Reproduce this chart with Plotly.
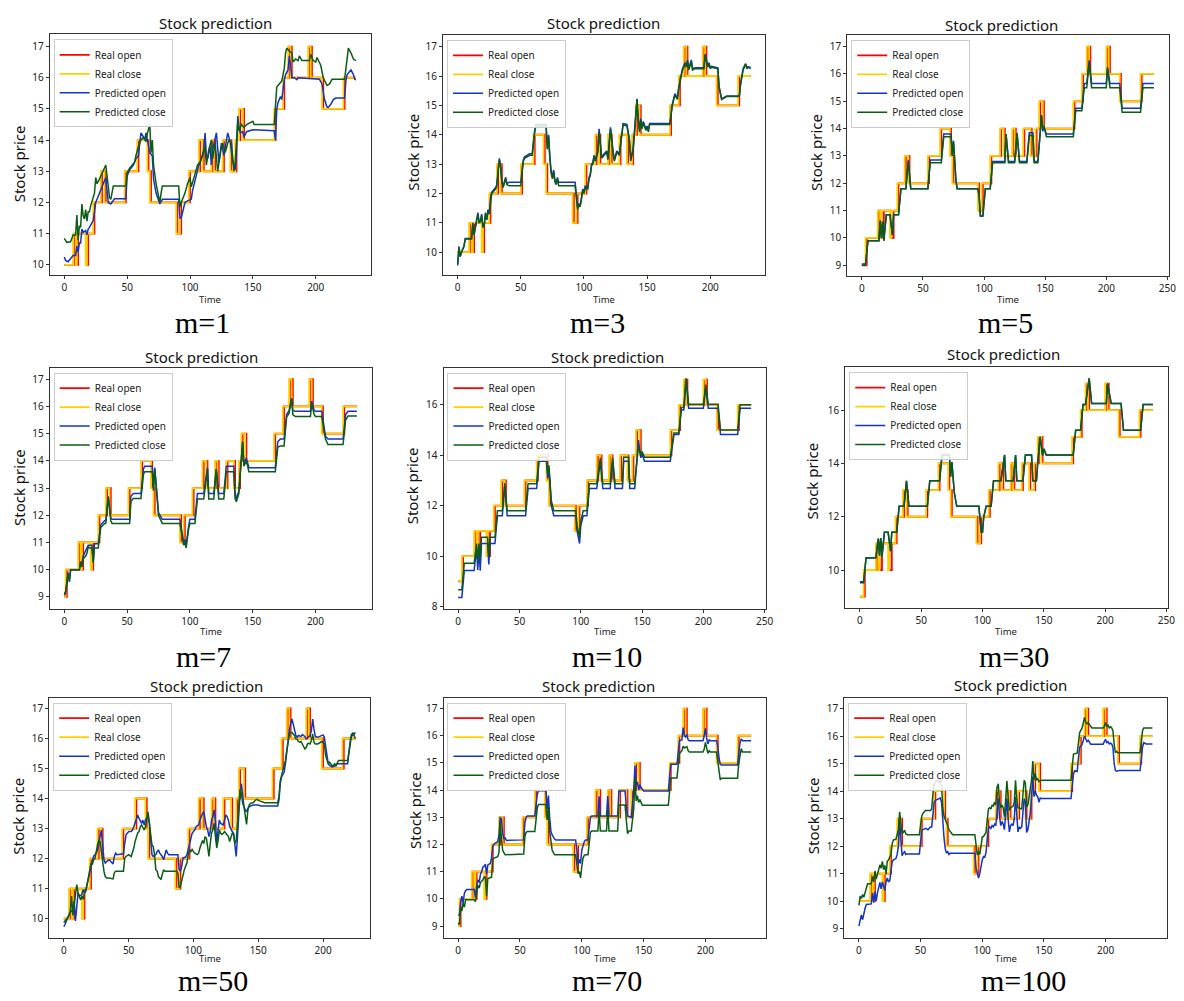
import plotly.graph_objects as go

# ------------------------------------------------------------------ data
PANEL_NAMES = ["m=1", "m=3", "m=5", "m=7", "m=10", "m=30", "m=50", "m=70", "m=100"]
SERIES_NAMES = ["Real open", "Real close", "Predicted open", "Predicted close"]

# price levels of the real series (step values, in order)
REAL_LEVELS = [9, 10, 11, 10, 11, 10, 11, 12, 13, 12, 13, 14, 13, 12, 11, 12, 13, 14, 13, 14,
               13, 14, 13, 14, 15, 14, 15, 16, 17, 16, 17, 16, 15, 16]

# time index at which each level starts (real close / real open), per window
close_start_base = [0, 3, 13, 15, 16, 23, 24, 29, 35, 38, 54, 64, 72, 74, 95, 98, 105, 113, 116, 123,
                    125, 132, 138, 142, 145, 148, 173, 180, 184, 186, 200, 202, 211, 228]
open_start_base = [0, 4, 14, 16, 18, 24, 26, 30, 36, 39, 55, 65, 73, 75, 96, 99, 106, 114, 117, 124,
                   126, 133, 139, 143, 146, 149, 174, 181, 185, 187, 201, 203, 212, 229]
close_start_m1 = [0, 7, 9, 10, 17, 18, 23, 29, 32, 48, 58, 66, 68, 89, 92, 99, 107, 110, 117, 119,
                  126, 132, 136, 139, 142, 167, 174, 178, 180, 194, 196, 205, 222]
open_start_m1 = [0, 8, 10, 11, 18, 19, 24, 30, 33, 49, 59, 67, 69, 90, 93, 100, 108, 111, 118, 120,
                 127, 133, 137, 140, 143, 168, 175, 179, 181, 195, 197, 206, 223]
close_start_m3 = [0, 9, 11, 12, 19, 20, 25, 31, 34, 50, 60, 68, 70, 91, 94, 101, 109, 112, 119, 121,
                  128, 134, 138, 141, 144, 168, 175, 179, 181, 194, 196, 205, 222]
open_start_m3 = [0, 10, 12, 13, 20, 21, 26, 32, 35, 51, 61, 69, 71, 92, 95, 102, 110, 113, 120, 122,
                 129, 135, 139, 142, 145, 169, 176, 180, 182, 195, 197, 206, 223]
close_start_m7 = [0, 1, 11, 13, 14, 21, 22, 27, 33, 36, 51, 61, 69, 71, 92, 95, 102, 110, 113, 120,
                  122, 129, 135, 139, 141, 144, 167, 174, 179, 181, 195, 197, 205, 222]
open_start_m7 = [0, 2, 12, 14, 15, 22, 23, 28, 34, 37, 52, 62, 70, 72, 93, 96, 103, 111, 114, 121,
                 123, 130, 136, 140, 142, 145, 168, 175, 180, 182, 196, 198, 206, 223]
close_start_m50 = [0, 4, 6, 7, 14, 15, 20, 26, 29, 45, 55, 63, 65, 86, 89, 96, 104, 107, 114, 116,
                   123, 129, 133, 135, 139, 161, 168, 172, 174, 187, 189, 199, 215]
open_start_m50 = [0, 5, 7, 8, 15, 16, 21, 27, 30, 46, 56, 64, 66, 87, 90, 97, 105, 108, 115, 117,
                  124, 130, 134, 136, 140, 162, 169, 173, 175, 188, 190, 200, 216]
close_start_m70 = [0, 1, 11, 13, 14, 21, 22, 27, 33, 36, 52, 62, 70, 72, 93, 96, 104, 111, 114, 121,
                   123, 130, 136, 140, 143, 146, 171, 178, 182, 184, 198, 200, 209, 226]
open_start_m70 = [0, 2, 12, 14, 15, 22, 23, 28, 34, 37, 53, 63, 71, 73, 94, 97, 105, 112, 115, 122,
                  124, 131, 137, 141, 144, 147, 172, 179, 183, 185, 199, 201, 210, 227]
close_start_m100 = [0, 9, 11, 12, 19, 20, 25, 31, 34, 50, 61, 69, 71, 93, 96, 104, 111, 114, 120, 122,
                    129, 135, 139, 142, 146, 172, 179, 183, 185, 198, 200, 210, 228]
open_start_m100 = [0, 10, 12, 13, 20, 21, 26, 32, 35, 51, 62, 70, 72, 94, 97, 105, 112, 115, 121, 123,
                   130, 136, 140, 143, 147, 173, 180, 184, 186, 199, 201, 211, 229]

# first level shown in each window, last time index of each window
FIRST_LEVEL = [1, 1, 0, 0, 0, 0, 1, 0, 1]
LAST_T = [232, 232, 239, 233, 239, 239, 225, 237, 238]

# predicted series: (time, price)
pred_open_m1 = [(0, 10.25), (1, 10.14), (3, 10.1), (5, 10.2), (7, 10.3), (9, 10.3), (10, 10.6), (11, 10.4), (12, 10.7),
    (13, 10.7), (14, 11.15), (15, 11.04), (17, 11.1), (18, 10.96), (19, 11.15), (20, 11.2), (22, 11.35), (23, 11.42),
    (24, 11.7), (25, 12.0), (27, 12.2), (28, 12.3), (30, 12.5), (33, 12.8), (34, 12.37), (35, 12.0), (37, 11.95),
    (39, 12.05), (40, 12.12), (49, 12.12), (50, 12.85), (52, 13.05), (55, 13.2), (57, 13.4), (59, 13.5), (60, 13.9),
    (61, 14.23), (63, 14.1), (64, 14.0), (65, 14.23), (66, 14.0), (67, 13.8), (68, 13.6), (70, 13.5), (71, 12.75),
    (73, 12.3), (75, 12.05), (76, 11.95), (77, 12.03), (78, 12.1), (91, 12.1), (92, 11.5), (93, 11.5), (95, 11.9),
    (96, 12.0), (98, 12.05), (101, 12.1), (102, 12.37), (104, 12.7), (105, 12.95), (107, 13.2), (108, 13.25),
    (110, 13.5), (111, 13.7), (112, 14.23), (113, 13.5), (114, 13.4), (116, 13.8), (117, 13.2), (118, 13.7),
    (121, 14.23), (122, 13.7), (123, 13.27), (125, 13.9), (127, 13.5), (130, 14.23), (131, 14.07), (132, 13.95),
    (134, 13.3), (136, 13.05), (137, 13.6), (138, 14.77), (139, 14.4), (140, 14.23), (142, 14.27), (143, 14.1),
    (145, 14.27), (147, 14.3), (150, 14.33), (167, 14.3), (168, 14.0), (169, 14.98), (170, 15.2), (172, 15.4),
    (173, 15.3), (175, 15.93), (176, 16.1), (178, 16.25), (179, 16.7), (180, 16.4), (181, 16.0), (183, 16.0),
    (185, 15.94), (186, 16.0), (203, 15.95), (205, 15.8), (207, 15.3), (209, 15.06), (210, 15.05), (212, 15.15),
    (214, 15.3), (216, 15.35), (223, 15.35), (224, 15.9), (225, 16.1), (227, 16.2), (228, 16.25), (230, 16.1),
    (231, 15.95), (232, 15.93)]
pred_close_m1 = [(0, 10.85), (2, 10.72), (5, 10.74), (7, 10.96), (9, 10.96), (10, 11.6), (11, 10.8), (12, 11.25),
    (13, 11.2), (14, 11.95), (15, 11.57), (16, 11.47), (17, 11.77), (18, 11.4), (19, 11.7), (20, 11.7), (21, 11.9),
    (23, 12.2), (24, 12.3), (25, 12.8), (26, 12.6), (28, 12.75), (30, 12.95), (33, 13.2), (34, 12.85), (35, 12.4),
    (36, 12.15), (37, 12.1), (39, 12.53), (49, 12.53), (50, 12.95), (52, 13.1), (54, 13.2), (56, 13.3), (57, 13.5),
    (59, 13.8), (61, 14.0), (63, 14.1), (65, 13.95), (66, 14.2), (68, 14.5), (69, 13.6), (70, 14.0), (71, 13.2),
    (73, 12.6), (75, 12.1), (76, 12.0), (77, 12.3), (78, 12.53), (91, 12.53), (92, 11.85), (93, 12.0), (96, 12.3),
    (98, 12.6), (100, 12.8), (101, 12.5), (104, 12.9), (106, 13.2), (108, 13.3), (110, 13.5), (112, 13.8),
    (113, 13.2), (115, 13.7), (117, 14.0), (118, 13.4), (120, 13.9), (122, 13.0), (125, 13.8), (126, 13.9),
    (128, 13.6), (130, 13.9), (131, 14.0), (133, 13.9), (135, 13.0), (136, 13.3), (138, 14.6), (139, 14.3),
    (141, 14.5), (143, 14.4), (145, 14.5), (150, 14.6), (151, 14.5), (167, 14.5), (168, 15.0), (169, 15.7),
    (171, 15.8), (173, 15.9), (175, 16.3), (176, 16.8), (177, 16.95), (179, 16.85), (181, 16.8), (182, 16.5),
    (184, 16.6), (186, 16.55), (187, 16.7), (189, 16.55), (195, 16.55), (196, 16.75), (198, 16.55), (200, 16.5),
    (201, 16.65), (203, 16.45), (204, 16.4), (206, 16.0), (209, 15.75), (211, 15.8), (213, 15.95), (223, 15.95),
    (224, 16.3), (225, 16.8), (226, 16.95), (228, 16.8), (230, 16.6), (232, 16.55)]

pred_open_m3 = [(0, 9.55), (1, 10.2), (2, 9.85), (3, 10.0), (5, 10.2), (6, 10.47), (11, 10.47), (12, 11.0), (13, 10.6),
    (14, 10.85), (15, 11.1), (16, 11.35), (17, 11.0), (18, 11.05), (19, 11.3), (20, 10.85), (21, 10.9), (22, 11.35),
    (23, 11.1), (24, 11.45), (25, 11.3), (26, 11.85), (27, 12.05), (28, 12.1), (30, 12.2), (31, 12.3), (32, 12.75),
    (33, 13.2), (34, 12.9), (35, 12.4), (36, 12.25), (37, 12.45), (38, 12.55), (39, 12.35), (41, 12.38), (50, 12.38),
    (51, 12.75), (52, 13.15), (53, 13.25), (55, 13.3), (57, 13.35), (59, 13.35), (60, 13.85), (61, 14.15),
    (62, 14.35), (70, 14.35), (71, 13.55), (72, 14.0), (73, 13.25), (74, 12.75), (75, 12.55), (76, 12.8),
    (77, 12.45), (78, 12.35), (79, 12.55), (80, 12.38), (93, 12.38), (94, 11.85), (95, 11.5), (96, 11.65),
    (97, 11.6), (98, 11.85), (99, 12.15), (100, 12.05), (101, 12.25), (103, 12.2), (104, 12.55), (105, 12.65),
    (106, 13.0), (107, 13.05), (108, 13.3), (109, 13.15), (110, 13.35), (111, 13.45), (112, 14.2), (113, 13.65),
    (114, 13.25), (116, 13.35), (118, 13.45), (119, 13.2), (121, 14.25), (123, 13.45), (124, 13.15), (126, 13.45),
    (128, 13.35), (131, 14.38), (134, 14.35), (136, 13.85), (137, 13.15), (139, 13.55), (140, 14.05), (142, 15.22),
    (143, 14.55), (144, 14.15), (145, 14.55), (146, 14.25), (147, 14.45), (149, 14.2), (150, 14.3), (151, 14.15),
    (152, 14.38), (168, 14.38), (170, 15.05), (172, 15.4), (174, 15.25), (175, 15.6), (177, 16.05), (178, 16.25),
    (180, 16.45), (181, 16.35), (182, 16.55), (183, 16.25), (184, 16.4), (185, 16.55), (186, 16.25), (188, 16.28),
    (195, 16.28), (196, 16.75), (198, 16.35), (199, 16.45), (200, 16.28), (201, 16.33), (206, 16.28), (207, 15.65),
    (209, 15.22), (211, 15.27), (213, 15.32), (223, 15.32), (224, 15.75), (226, 16.25), (228, 16.42), (229, 16.28),
    (230, 16.32), (232, 16.28)]
pred_close_m3 = [(0, 9.6), (1, 10.15), (2, 9.85), (3, 10.0), (5, 10.2), (6, 10.45), (11, 10.45), (12, 10.95), (13, 10.6),
    (14, 10.8), (15, 11.1), (16, 11.3), (17, 11.0), (18, 11.05), (19, 11.25), (20, 10.85), (21, 10.9), (22, 11.3),
    (23, 11.1), (24, 11.4), (25, 11.3), (26, 11.8), (27, 12.0), (28, 12.05), (30, 12.15), (31, 12.25), (32, 12.7),
    (33, 13.15), (34, 12.9), (35, 12.4), (36, 12.2), (37, 12.4), (38, 12.5), (39, 12.3), (41, 12.26), (50, 12.26),
    (51, 12.7), (52, 13.1), (53, 13.2), (55, 13.25), (57, 13.3), (59, 13.3), (60, 13.8), (61, 14.1), (62, 14.3),
    (70, 14.3), (71, 13.5), (72, 13.95), (73, 13.2), (74, 12.7), (75, 12.5), (76, 12.75), (77, 12.4), (78, 12.3),
    (79, 12.5), (80, 12.26), (93, 12.26), (94, 11.8), (95, 11.45), (96, 11.6), (97, 11.55), (98, 11.8), (99, 12.1),
    (100, 12.0), (101, 12.2), (103, 12.15), (104, 12.5), (105, 12.6), (106, 12.95), (107, 13.0), (108, 13.25),
    (109, 13.1), (110, 13.3), (111, 13.4), (112, 14.1), (113, 13.6), (114, 13.2), (116, 13.3), (118, 13.4),
    (119, 13.15), (121, 14.2), (123, 13.4), (124, 13.1), (126, 13.4), (128, 13.3), (131, 14.35), (134, 14.3),
    (136, 13.8), (137, 13.1), (139, 13.5), (140, 14.0), (142, 15.2), (143, 14.5), (144, 14.1), (145, 14.5),
    (146, 14.2), (147, 14.4), (149, 14.15), (150, 14.25), (151, 14.1), (152, 14.35), (168, 14.35), (170, 15.0),
    (172, 15.35), (174, 15.2), (175, 15.55), (177, 16.0), (178, 16.2), (180, 16.4), (181, 16.3), (182, 16.5),
    (183, 16.2), (184, 16.35), (185, 16.5), (186, 16.2), (188, 16.25), (195, 16.25), (196, 16.7), (198, 16.3),
    (199, 16.4), (200, 16.25), (201, 16.3), (206, 16.25), (207, 15.6), (209, 15.2), (211, 15.25), (213, 15.3),
    (223, 15.3), (224, 15.7), (226, 16.2), (228, 16.4), (229, 16.25), (230, 16.3), (232, 16.25)]

pred_open_m5 = [(0, 9.0), (3, 9.0), (5, 9.9), (14, 9.9), (15, 10.6), (16, 10.0), (17, 10.6), (18, 9.9), (20, 10.85),
    (23, 10.85), (25, 10.1), (26, 10.85), (30, 10.85), (32, 11.8), (36, 11.8), (38, 12.85), (40, 11.8), (54, 11.8),
    (56, 12.85), (65, 12.85), (67, 13.8), (73, 13.8), (74, 13.1), (75, 13.55), (77, 12.1), (78, 11.8), (95, 11.8),
    (96, 11.5), (97, 10.8), (99, 10.8), (101, 11.8), (105, 11.8), (107, 12.8), (117, 12.8), (118, 13.8), (120, 12.8),
    (125, 12.8), (127, 13.85), (129, 12.8), (135, 12.8), (137, 13.85), (140, 13.85), (141, 12.8), (144, 12.8),
    (147, 14.5), (148, 13.9), (149, 14.05), (151, 13.8), (173, 13.8), (175, 14.75), (180, 14.75), (182, 15.65),
    (184, 15.65), (186, 16.5), (188, 15.65), (200, 15.65), (201, 16.25), (203, 15.65), (211, 15.65), (213, 14.75),
    (228, 14.75), (230, 15.65), (239, 15.65)]
pred_close_m5 = [(0, 9.05), (3, 9.05), (5, 9.9), (14, 9.9), (15, 10.65), (16, 10.0), (17, 10.6), (18, 9.9), (20, 10.85),
    (23, 10.85), (25, 10.1), (26, 10.85), (30, 10.85), (32, 11.8), (36, 11.8), (38, 12.8), (40, 11.8), (54, 11.8),
    (56, 12.75), (65, 12.75), (67, 13.7), (73, 13.7), (74, 13.0), (75, 13.5), (77, 12.1), (78, 11.8), (95, 11.8),
    (96, 11.5), (97, 10.8), (99, 10.8), (101, 11.8), (105, 11.8), (107, 12.75), (117, 12.75), (118, 13.8),
    (120, 12.75), (125, 12.75), (127, 13.8), (129, 12.75), (135, 12.75), (137, 13.75), (140, 13.75), (141, 12.75),
    (144, 12.75), (147, 14.45), (148, 14.0), (149, 14.1), (151, 13.7), (173, 13.7), (175, 14.65), (180, 14.65),
    (182, 15.5), (184, 15.5), (186, 16.4), (188, 15.5), (200, 15.5), (201, 16.2), (203, 15.5), (211, 15.5),
    (213, 14.6), (228, 14.6), (230, 15.5), (239, 15.5)]

pred_open_m7 = [(0, 9.05), (1, 9.15), (3, 9.9), (4, 9.55), (5, 10.0), (12, 10.0), (13, 10.3), (14, 10.2), (15, 10.5),
    (17, 10.7), (18, 10.8), (19, 10.9), (20, 10.9), (22, 10.9), (23, 10.3), (24, 10.95), (27, 10.95), (29, 11.65),
    (30, 11.7), (32, 11.8), (33, 11.8), (35, 12.7), (37, 11.9), (38, 11.85), (52, 11.85), (53, 12.7), (55, 12.8),
    (61, 12.8), (63, 13.7), (64, 13.8), (70, 13.8), (71, 13.0), (72, 13.75), (74, 12.7), (75, 12.1), (78, 11.85),
    (92, 11.85), (94, 11.3), (95, 11.0), (96, 11.1), (97, 10.9), (99, 11.6), (100, 11.85), (104, 11.85), (106, 12.8),
    (111, 12.8), (114, 13.75), (115, 12.8), (119, 12.8), (121, 13.7), (123, 12.8), (127, 12.8), (129, 13.8),
    (135, 13.8), (136, 12.8), (137, 12.6), (139, 12.9), (142, 14.7), (143, 13.9), (145, 14.1), (147, 13.75),
    (168, 13.75), (170, 14.7), (172, 14.8), (175, 14.8), (177, 15.7), (179, 15.85), (181, 16.3), (182, 15.85),
    (184, 15.82), (196, 15.82), (197, 16.2), (199, 15.85), (200, 15.82), (205, 15.82), (208, 14.9), (210, 14.8),
    (222, 14.8), (224, 15.7), (226, 15.82), (233, 15.82)]
pred_close_m7 = [(0, 9.1), (1, 9.2), (3, 9.83), (4, 9.6), (5, 10.0), (12, 10.0), (13, 10.25), (14, 10.1), (15, 10.4),
    (17, 10.5), (18, 10.6), (19, 10.85), (20, 10.8), (22, 10.8), (23, 10.25), (24, 10.8), (27, 10.8), (29, 11.55),
    (30, 11.6), (32, 11.7), (33, 11.7), (35, 12.65), (37, 11.8), (38, 11.7), (52, 11.7), (53, 12.5), (55, 12.62),
    (61, 12.62), (63, 13.5), (64, 13.6), (70, 13.6), (71, 12.9), (72, 13.7), (74, 12.6), (75, 12.0), (78, 11.7),
    (92, 11.7), (94, 11.2), (95, 10.9), (96, 11.0), (97, 10.8), (99, 11.5), (100, 11.7), (104, 11.7), (106, 12.6),
    (111, 12.6), (114, 13.7), (115, 12.6), (119, 12.6), (121, 13.7), (123, 12.6), (127, 12.6), (129, 13.6),
    (135, 13.6), (136, 12.6), (137, 12.5), (139, 12.8), (142, 14.7), (143, 13.8), (145, 14.0), (147, 13.6),
    (168, 13.6), (170, 14.5), (172, 14.55), (175, 14.55), (177, 15.6), (179, 15.75), (181, 16.3), (182, 15.7),
    (184, 15.63), (196, 15.63), (197, 16.1), (199, 15.7), (200, 15.63), (205, 15.63), (208, 14.8), (210, 14.6),
    (222, 14.6), (224, 15.5), (226, 15.65), (233, 15.65)]

pred_open_m10 = [(0, 8.36), (3, 8.36), (5, 9.43), (13, 9.43), (15, 10.3), (16, 9.45), (17, 10.3), (18, 9.42), (19, 10.5),
    (24, 10.5), (25, 9.67), (26, 10.5), (30, 10.5), (32, 11.6), (36, 11.6), (38, 12.8), (40, 11.6), (55, 11.6),
    (57, 12.68), (64, 12.68), (66, 13.76), (72, 13.76), (73, 13.1), (74, 13.5), (76, 12.0), (78, 11.6), (96, 11.6),
    (97, 11.0), (99, 10.5), (100, 11.2), (102, 11.6), (105, 11.6), (107, 12.68), (113, 12.68), (116, 13.76),
    (118, 12.68), (124, 12.68), (126, 13.76), (128, 12.68), (134, 12.68), (135, 13.76), (139, 13.76), (140, 12.68),
    (144, 12.68), (147, 14.6), (149, 13.9), (150, 14.05), (152, 13.76), (173, 13.76), (176, 14.82), (180, 14.82),
    (182, 15.8), (184, 15.8), (186, 17.0), (188, 15.87), (200, 15.87), (202, 16.7), (204, 15.87), (212, 15.87),
    (214, 14.82), (228, 14.82), (230, 15.87), (239, 15.87)]
pred_close_m10 = [(0, 8.67), (3, 8.67), (5, 9.72), (13, 9.72), (15, 10.5), (16, 9.8), (17, 10.5), (18, 9.9), (19, 10.75),
    (24, 10.75), (25, 10.02), (26, 10.75), (30, 10.75), (32, 11.8), (36, 11.8), (38, 12.9), (40, 11.8), (55, 11.8),
    (57, 12.87), (64, 12.87), (66, 13.92), (72, 13.92), (73, 13.3), (74, 13.6), (76, 12.2), (78, 11.8), (96, 11.8),
    (97, 11.2), (99, 10.75), (100, 11.4), (102, 11.8), (105, 11.8), (107, 12.87), (113, 12.87), (116, 13.9),
    (118, 12.87), (124, 12.87), (126, 13.9), (128, 12.87), (134, 12.87), (135, 13.92), (139, 13.92), (140, 12.87),
    (144, 12.87), (147, 14.35), (149, 14.0), (150, 14.15), (152, 13.92), (173, 13.92), (176, 14.88), (180, 14.88),
    (182, 15.9), (184, 15.9), (186, 17.05), (188, 16.02), (200, 16.02), (202, 16.8), (204, 16.02), (212, 16.02),
    (214, 15.0), (228, 15.0), (230, 16.0), (239, 16.0)]

pred_open_m30 = [(0, 9.52), (3, 9.52), (5, 10.44), (13, 10.46), (15, 11.18), (16, 10.55), (17, 11.2), (18, 10.5), (20, 11.42),
    (23, 11.42), (25, 10.71), (26, 11.42), (30, 11.42), (32, 12.39), (36, 12.39), (38, 13.35), (40, 12.39), (55, 12.39),
    (57, 13.35), (65, 13.35), (67, 14.32), (73, 14.32), (74, 13.5), (75, 14.05), (77, 12.9), (79, 12.39), (97, 12.39),
    (98, 11.9), (99, 11.42), (100, 11.42), (101, 12.0), (103, 12.39), (107, 12.39), (109, 13.35), (115, 13.35),
    (118, 14.32), (119, 13.35), (125, 13.35), (127, 14.32), (128, 13.35), (133, 13.35), (135, 14.32), (140, 14.32),
    (141, 13.35), (144, 13.35), (145, 14.0), (147, 15.0), (149, 14.3), (150, 14.55), (152, 14.32), (174, 14.32),
    (176, 15.25), (180, 15.25), (182, 16.21), (184, 16.21), (187, 17.2), (189, 16.25), (201, 16.25), (202, 17.0),
    (205, 16.25), (213, 16.25), (215, 15.25), (229, 15.25), (231, 16.21), (239, 16.21)]
pred_close_m30 = [(0, 9.56), (3, 9.56), (5, 10.46), (13, 10.46), (15, 11.18), (16, 10.55), (17, 11.2), (18, 10.5), (20, 11.42),
    (23, 11.42), (25, 10.71), (26, 11.42), (30, 11.42), (32, 12.39), (36, 12.39), (38, 13.35), (40, 12.39), (55, 12.39),
    (57, 13.35), (65, 13.35), (67, 14.32), (73, 14.32), (74, 13.5), (75, 14.05), (77, 12.9), (79, 12.39), (97, 12.39),
    (98, 11.9), (99, 11.42), (100, 11.42), (101, 12.0), (103, 12.39), (107, 12.39), (109, 13.35), (115, 13.35),
    (118, 14.32), (119, 13.35), (125, 13.35), (127, 14.32), (128, 13.35), (133, 13.35), (135, 14.32), (140, 14.32),
    (141, 13.35), (144, 13.35), (145, 14.0), (147, 15.0), (149, 14.3), (150, 14.55), (152, 14.32), (174, 14.32),
    (176, 15.25), (180, 15.25), (182, 16.21), (184, 16.21), (187, 17.2), (189, 16.25), (201, 16.25), (202, 17.0),
    (205, 16.25), (213, 16.25), (215, 15.25), (229, 15.25), (231, 16.21), (239, 16.21)]

pred_open_m50 = [(0, 9.73), (1, 9.81), (3, 10.03), (5, 10.2), (7, 10.3), (8, 10.58), (9, 9.92), (10, 10.42), (11, 10.86),
    (12, 10.75), (14, 10.8), (15, 10.97), (16, 10.86), (17, 10.97), (18, 11.13), (19, 11.3), (20, 11.52), (21, 11.74),
    (22, 11.9), (23, 12.07), (24, 12.13), (25, 12.18), (26, 12.3), (27, 12.57), (28, 12.73), (29, 12.95), (30, 12.5),
    (31, 11.96), (32, 11.85), (33, 11.9), (35, 11.96), (37, 11.85), (38, 11.82), (39, 12.07), (40, 12.18), (41, 12.13),
    (46, 12.16), (47, 12.5), (48, 12.79), (49, 12.84), (50, 12.9), (52, 12.9), (53, 12.95), (54, 13.06), (55, 13.17),
    (56, 13.34), (57, 13.45), (58, 13.34), (59, 13.23), (60, 13.17), (61, 13.28), (62, 13.12), (63, 13.28), (64, 13.4),
    (65, 13.45), (66, 13.17), (67, 12.73), (68, 12.13), (69, 12.07), (71, 12.13), (72, 12.23), (73, 12.29), (74, 12.18),
    (75, 12.13), (76, 12.07), (77, 11.96), (78, 12.13), (79, 12.29), (80, 12.18), (81, 12.13), (88, 12.13), (89, 11.63),
    (90, 11.58), (91, 11.74), (92, 12.02), (94, 12.05), (95, 12.13), (96, 12.3), (97, 12.5), (98, 12.73), (99, 12.84),
    (100, 12.9), (101, 12.95), (102, 13.06), (104, 13.12), (105, 13.28), (106, 13.4), (107, 13.5), (108, 13.56),
    (109, 13.28), (110, 13.06), (111, 12.95), (112, 12.73), (113, 12.9), (114, 13.28), (115, 13.4), (116, 13.62),
    (117, 13.23), (118, 12.5), (119, 12.95), (120, 13.28), (121, 13.17), (123, 13.12), (124, 13.28), (125, 13.45),
    (126, 13.4), (127, 13.28), (128, 13.06), (129, 12.95), (130, 12.9), (131, 12.84), (132, 12.3), (133, 12.07),
    (134, 12.73), (135, 13.62), (136, 14.17), (137, 14.5), (138, 14.06), (139, 13.73), (140, 13.62), (141, 13.56),
    (142, 13.67), (143, 13.73), (146, 13.78), (150, 13.78), (152, 13.75), (165, 13.75), (166, 13.95), (167, 14.5),
    (168, 14.72), (170, 14.88), (171, 15.16), (172, 15.6), (173, 16.04), (174, 16.26), (175, 16.48), (176, 16.65),
    (177, 16.48), (178, 16.26), (179, 16.1), (180, 16.04), (181, 16.1), (183, 16.07), (184, 16.13), (186, 16.07),
    (187, 15.99), (188, 16.02), (190, 16.1), (191, 16.26), (192, 16.65), (193, 16.32), (194, 16.07), (196, 16.04),
    (199, 16.1), (200, 16.12), (201, 16.04), (202, 15.71), (203, 15.32), (204, 15.16), (205, 15.1), (207, 15.05),
    (210, 15.1), (211, 15.16), (219, 15.16), (220, 15.6), (221, 15.93), (222, 16.15), (223, 16.1), (224, 16.15),
    (225, 16.2)]
pred_close_m50 = [(0, 9.87), (2, 9.98), (4, 10.09), (5, 10.25), (6, 10.75), (7, 10.1), (8, 10.42), (9, 10.75), (10, 11.13),
    (11, 10.86), (12, 10.75), (13, 10.62), (14, 10.75), (15, 10.64), (16, 10.86), (17, 10.91), (18, 11.13), (19, 11.4),
    (20, 11.57), (21, 11.85), (22, 11.8), (23, 11.96), (24, 12.0), (25, 12.3), (26, 12.45), (27, 12.6), (28, 12.57),
    (29, 12.23), (30, 11.85), (31, 11.57), (32, 11.4), (33, 11.35), (35, 11.35), (37, 11.32), (38, 11.32), (39, 11.52),
    (40, 11.58), (46, 11.58), (47, 12.0), (48, 12.07), (50, 12.13), (52, 12.07), (53, 12.18), (54, 12.35), (55, 12.57),
    (56, 12.73), (57, 12.85), (58, 12.9), (59, 13.06), (60, 13.12), (61, 13.0), (62, 12.95), (63, 13.06), (64, 13.4),
    (65, 13.56), (66, 13.17), (67, 12.85), (68, 12.46), (69, 12.4), (70, 12.13), (71, 11.63), (72, 11.58), (73, 11.4),
    (74, 11.35), (75, 11.3), (76, 11.47), (77, 11.63), (78, 11.58), (87, 11.58), (88, 11.52), (89, 11.02), (90, 11.08),
    (91, 11.3), (92, 11.47), (93, 11.63), (94, 11.74), (95, 11.85), (96, 12.13), (97, 12.3), (98, 12.23), (99, 12.3),
    (100, 12.23), (101, 12.18), (103, 12.13), (104, 12.18), (105, 12.35), (106, 12.46), (107, 12.6), (108, 12.5),
    (109, 12.73), (110, 12.68), (111, 12.3), (112, 12.07), (113, 12.5), (114, 12.85), (115, 12.95), (116, 13.17),
    (117, 12.73), (118, 12.35), (119, 12.6), (120, 12.95), (121, 12.84), (122, 12.8), (123, 12.84), (124, 12.9),
    (125, 12.84), (126, 12.8), (127, 12.73), (128, 12.57), (129, 12.73), (130, 12.85), (131, 12.8), (132, 12.5),
    (133, 12.6), (134, 13.28), (135, 13.84), (136, 14.3), (137, 14.17), (138, 13.84), (139, 13.73), (140, 13.5),
    (141, 13.14), (142, 13.6), (143, 13.78), (144, 13.84), (146, 13.86), (148, 13.95), (149, 13.97), (151, 13.92),
    (153, 13.89), (155, 13.86), (165, 13.86), (166, 14.06), (167, 14.6), (168, 14.77), (169, 14.88), (170, 15.05),
    (171, 15.27), (172, 15.6), (173, 15.93), (174, 16.13), (175, 16.2), (176, 16.2), (177, 16.15), (178, 16.1),
    (179, 15.99), (180, 15.97), (181, 15.9), (182, 15.88), (183, 15.9), (184, 15.82), (185, 15.77), (186, 15.65),
    (187, 15.7), (188, 15.82), (189, 15.84), (190, 15.82), (191, 15.93), (192, 16.15), (193, 15.88), (194, 15.82),
    (196, 15.82), (198, 15.87), (199, 15.9), (200, 15.87), (201, 15.82), (202, 15.43), (203, 15.27), (204, 15.16),
    (205, 15.21), (206, 15.16), (207, 15.1), (208, 15.1), (209, 15.16), (210, 15.1), (211, 15.21), (212, 15.27),
    (219, 15.27), (220, 15.5), (221, 15.82), (222, 16.1), (223, 16.2), (224, 16.1), (225, 15.99)]

pred_open_m70 = [(0, 9.4), (1, 9.4), (2, 9.9), (3, 10.1), (4, 9.85), (5, 10.2), (6, 10.3), (7, 10.34), (13, 10.34),
    (14, 10.05), (15, 10.5), (16, 10.7), (17, 10.6), (18, 10.9), (19, 11.0), (20, 11.17), (21, 11.2), (22, 11.28),
    (23, 10.9), (24, 11.25), (26, 11.3), (27, 11.5), (28, 11.94), (30, 12.05), (32, 12.1), (33, 12.35), (34, 12.98),
    (35, 12.95), (36, 12.4), (37, 12.2), (38, 12.26), (39, 12.15), (53, 12.17), (54, 12.8), (55, 13.0), (56, 13.05),
    (62, 13.05), (63, 13.4), (64, 13.85), (65, 13.98), (71, 13.98), (72, 13.3), (73, 13.8), (74, 13.0), (75, 12.5),
    (76, 12.35), (77, 12.25), (78, 12.2), (79, 12.17), (95, 12.17), (96, 11.8), (97, 11.27), (98, 11.45), (99, 11.3),
    (100, 11.8), (101, 12.0), (102, 12.1), (103, 12.17), (105, 12.17), (106, 12.6), (107, 13.0), (108, 13.05),
    (113, 13.05), (114, 13.77), (115, 13.05), (120, 13.05), (121, 13.78), (122, 13.05), (129, 13.05), (130, 13.97),
    (135, 13.97), (136, 13.4), (137, 13.05), (140, 13.0), (141, 13.5), (142, 14.0), (143, 14.9), (144, 14.2),
    (145, 14.3), (146, 14.0), (147, 14.2), (148, 14.1), (150, 13.97), (170, 13.97), (171, 14.5), (172, 14.95),
    (177, 14.95), (178, 15.5), (179, 15.82), (181, 15.85), (182, 16.3), (183, 16.0), (184, 15.95), (185, 16.05),
    (186, 15.85), (187, 15.82), (198, 15.82), (199, 16.0), (200, 16.27), (201, 15.9), (202, 15.7), (203, 15.85),
    (204, 15.82), (209, 15.82), (210, 15.6), (211, 15.2), (212, 14.95), (213, 14.92), (226, 14.92), (227, 15.4),
    (228, 15.75), (229, 15.88), (230, 15.82), (237, 15.82)]
pred_close_m70 = [(0, 9.12), (1, 9.05), (2, 9.7), (3, 9.55), (4, 9.85), (5, 9.7), (6, 9.97), (13, 9.97), (14, 9.9),
    (15, 10.3), (16, 10.5), (17, 10.4), (18, 10.6), (19, 10.65), (20, 10.7), (21, 10.8), (22, 10.8), (23, 10.1),
    (24, 10.75), (27, 10.8), (28, 11.45), (29, 11.5), (32, 11.55), (33, 11.7), (34, 12.85), (35, 12.2), (36, 11.8),
    (37, 11.7), (38, 11.62), (53, 11.65), (54, 12.3), (55, 12.45), (56, 12.48), (62, 12.48), (63, 12.9), (64, 13.35),
    (65, 13.47), (71, 13.47), (72, 12.9), (73, 13.4), (74, 12.5), (75, 12.0), (76, 11.8), (77, 11.7), (78, 11.62),
    (95, 11.62), (96, 11.2), (97, 10.93), (98, 11.0), (99, 10.77), (100, 11.2), (101, 11.5), (102, 11.6), (103, 11.62),
    (105, 11.62), (106, 12.1), (107, 12.45), (108, 12.5), (113, 12.5), (114, 13.25), (115, 12.5), (120, 12.5),
    (121, 13.3), (122, 12.5), (129, 12.5), (130, 13.45), (135, 13.45), (136, 12.9), (137, 12.4), (138, 12.5),
    (140, 12.5), (141, 12.9), (142, 13.3), (143, 14.44), (144, 13.6), (145, 13.8), (146, 13.55), (147, 13.65),
    (148, 13.5), (149, 13.44), (170, 13.44), (171, 14.0), (172, 14.45), (177, 14.45), (178, 15.0), (179, 15.35),
    (181, 15.45), (182, 15.62), (183, 15.55), (185, 15.6), (186, 15.45), (187, 15.4), (198, 15.4), (199, 15.5),
    (200, 15.76), (201, 15.5), (202, 15.35), (203, 15.45), (204, 15.4), (209, 15.4), (210, 15.0), (211, 14.6),
    (212, 14.38), (213, 14.44), (226, 14.44), (227, 15.0), (228, 15.35), (229, 15.53), (230, 15.4), (237, 15.4)]

pred_open_m100 = [(0, 9.09), (1, 9.3), (2, 9.5), (3, 9.33), (4, 9.6), (5, 9.75), (6, 9.88), (10, 9.9), (11, 10.3),
    (12, 9.95), (13, 10.35), (14, 10.0), (15, 10.3), (16, 10.55), (17, 10.68), (18, 10.45), (19, 10.7), (20, 10.55),
    (21, 10.39), (22, 10.7), (23, 10.84), (24, 10.7), (25, 10.75), (26, 11.1), (27, 11.44), (28, 11.5), (30, 11.55),
    (31, 11.7), (32, 12.0), (33, 12.9), (34, 12.2), (35, 11.65), (36, 11.75), (37, 11.8), (38, 11.7), (39, 11.72),
    (49, 11.72), (50, 12.3), (51, 12.58), (52, 12.6), (54, 12.65), (56, 12.6), (58, 12.7), (59, 12.7), (60, 13.2),
    (61, 13.6), (62, 13.67), (64, 13.7), (66, 13.75), (67, 13.6), (68, 12.7), (69, 12.3), (70, 11.9), (71, 11.75),
    (72, 11.8), (73, 11.7), (74, 11.74), (94, 11.74), (95, 11.2), (96, 10.98), (97, 10.84), (98, 11.0), (99, 11.3),
    (100, 11.5), (101, 11.62), (102, 11.6), (103, 11.75), (104, 12.3), (105, 12.64), (106, 12.7), (107, 12.65),
    (108, 12.75), (109, 12.7), (110, 12.8), (111, 12.75), (112, 13.2), (113, 13.73), (114, 13.1), (115, 12.75),
    (116, 12.9), (117, 12.8), (118, 12.6), (119, 13.1), (120, 13.73), (121, 13.0), (122, 12.52), (123, 12.75),
    (124, 12.8), (125, 12.75), (126, 13.0), (127, 13.79), (128, 13.0), (129, 12.52), (130, 12.7), (131, 12.65),
    (132, 12.7), (133, 13.2), (134, 13.73), (135, 13.6), (136, 12.5), (137, 12.6), (138, 12.95), (139, 13.2),
    (140, 13.8), (141, 14.53), (142, 13.8), (143, 14.0), (144, 13.85), (145, 13.8), (146, 13.6), (147, 13.75),
    (148, 13.73), (172, 13.73), (173, 14.2), (174, 14.63), (175, 14.75), (177, 14.72), (178, 15.2), (179, 15.6),
    (181, 15.7), (182, 15.85), (183, 16.01), (184, 15.9), (185, 15.8), (186, 15.85), (187, 15.75), (188, 15.71),
    (198, 15.71), (199, 15.8), (200, 15.89), (201, 15.75), (202, 15.8), (203, 15.72), (204, 15.75), (205, 15.72),
    (206, 15.6), (207, 15.0), (208, 14.75), (209, 14.73), (211, 14.75), (228, 14.75), (229, 15.2), (230, 15.6),
    (231, 15.77), (233, 15.72), (238, 15.72)]
pred_close_m100 = [(0, 9.85), (1, 10.18), (2, 10.1), (3, 10.24), (4, 10.15), (5, 10.35), (6, 10.55), (7, 10.63),
    (10, 10.63), (11, 10.9), (12, 10.7), (13, 11.1), (14, 10.8), (15, 11.0), (16, 11.1), (17, 11.32), (18, 11.2),
    (19, 11.45), (20, 11.15), (21, 11.3), (22, 10.98), (23, 11.45), (24, 11.5), (26, 11.7), (27, 12.1), (28, 12.23),
    (30, 12.25), (31, 12.4), (32, 12.6), (33, 13.25), (34, 12.7), (35, 12.45), (36, 12.5), (37, 12.58), (38, 12.45),
    (39, 12.42), (49, 12.42), (50, 12.7), (51, 13.1), (52, 13.2), (54, 13.3), (58, 13.3), (59, 13.35), (60, 13.9),
    (61, 14.25), (62, 14.33), (64, 14.38), (65, 14.3), (66, 14.45), (67, 14.2), (68, 13.4), (69, 13.1), (70, 13.0),
    (71, 12.9), (72, 12.75), (73, 12.6), (74, 12.55), (75, 12.46), (76, 12.42), (94, 12.42), (95, 11.9), (96, 11.68),
    (97, 11.8), (98, 11.7), (99, 12.0), (100, 12.34), (101, 12.35), (102, 12.45), (103, 12.5), (104, 12.9),
    (105, 13.35), (106, 13.4), (107, 13.35), (108, 13.5), (109, 13.45), (110, 13.6), (111, 13.5), (112, 14.15),
    (113, 14.27), (114, 13.6), (115, 13.4), (116, 13.5), (117, 13.4), (118, 13.07), (119, 13.6), (120, 14.37),
    (121, 13.8), (122, 13.3), (123, 13.4), (125, 13.45), (126, 13.6), (127, 14.4), (128, 13.7), (129, 13.4),
    (132, 13.35), (133, 13.9), (134, 14.4), (135, 14.3), (136, 13.43), (137, 13.5), (138, 13.8), (139, 14.0),
    (140, 14.4), (141, 15.1), (142, 14.4), (143, 14.65), (144, 14.4), (145, 14.45), (146, 14.35), (148, 14.4),
    (172, 14.4), (173, 14.9), (174, 15.35), (177, 15.38), (178, 15.9), (179, 16.13), (181, 16.3), (182, 16.45),
    (183, 16.68), (184, 16.5), (185, 16.45), (186, 16.5), (187, 16.4), (188, 16.35), (189, 16.3), (198, 16.3),
    (199, 16.35), (200, 16.5), (201, 16.35), (202, 16.4), (203, 16.3), (204, 16.35), (205, 16.3), (206, 16.2),
    (207, 15.7), (208, 15.4), (209, 15.45), (210, 15.4), (228, 15.4), (229, 15.8), (230, 16.2), (231, 16.3),
    (238, 16.3)]

REAL_CLOSE_STARTS = [close_start_m1, close_start_m3, close_start_base, close_start_m7, close_start_base,
                     close_start_base, close_start_m50, close_start_m70, close_start_m100]
REAL_OPEN_STARTS = [open_start_m1, open_start_m3, open_start_base, open_start_m7, open_start_base,
                    open_start_base, open_start_m50, open_start_m70, open_start_m100]
PRED_OPEN = [pred_open_m1, pred_open_m3, pred_open_m5, pred_open_m7, pred_open_m10, pred_open_m30,
             pred_open_m50, pred_open_m70, pred_open_m100]
PRED_CLOSE = [pred_close_m1, pred_close_m3, pred_close_m5, pred_close_m7, pred_close_m10, pred_close_m30,
              pred_close_m50, pred_close_m70, pred_close_m100]

# ------------------------------------------------------------------ layout / style
OFF = 8                      # default page body margin
FW, FH = 1184 - OFF, 1001 - OFF
def px2x(px):
    return (px - OFF) / FW
def py2y(py):
    return 1 - (py - OFF) / FH

# plot boxes in reference pixels: (left, right, top, bottom)
BOXES = [(50, 373, 34.5, 276.5), (446, 770.5, 35, 276.5), (853, 1176.5, 35, 277),
         (50, 374, 369, 611), (446.5, 771, 369, 611), (851, 1175.5, 368.5, 610),
         (49.5, 372.5, 700.5, 941.5), (446.5, 771, 700.5, 941.5), (850, 1175, 700.5, 941.5)]
YRANGES = [(9.66, 17.39), (9.21, 17.40), (8.61, 17.43), (8.57, 17.43), (7.92, 17.48),
           (8.59, 17.62), (9.36, 17.36), (8.57, 17.40), (8.67, 17.40)]
YDTICK = [1, 1, 1, 1, 2, 2, 1, 1, 1]
TITLE_POS = [(217, 23), (608, 23), (1008, 25), (203, 358), (612, 358), (1010, 355),
             (208, 689), (603, 689), (1017, 688)]
YLAB_POS = [(19, 164), (416, 153), (822, 153), (19, 489), (415, 488), (818, 483),
            (18, 819), (418, 814), (818, 819)]
XLAB_Y = [301, 301, 301, 634, 634, 634, 962, 962, 962]
MLAB_POS = [(204, 324), (602, 324), (1012, 324), (205, 659), (611, 659), (1021, 659),
            (214, 984.5), (611, 984.5), (1030, 984.5)]

COLORS = ["#ff0000", "#ffd000", "#1533c4", "#0b5c14"]
WIDTHS = [1.8, 1.8, 1.5, 1.5]
FONT = "Noto Sans, DejaVu Sans, sans-serif"
AX_COLOR = "#333333"

fig = go.Figure()
layout = dict(width=FW, height=FH, autosize=False, margin=dict(l=0, r=0, t=0, b=0),
              paper_bgcolor="white", plot_bgcolor="white",
              font=dict(family=FONT, color="#222222"), annotations=[])

for i in range(9):
    sfx = "" if i == 0 else str(i + 1)
    xa, ya = "x" + sfx, "y" + sfx
    leg = "legend" + sfx
    N = LAST_T[i]
    levels = REAL_LEVELS[FIRST_LEVEL[i]:]

    series = []
    for starts in (REAL_OPEN_STARTS[i], REAL_CLOSE_STARTS[i]):
        xs = list(starts) + [N]
        ys = list(levels) + [levels[-1]]
        series.append((xs, ys, "hv"))
    for pts in (PRED_OPEN[i], PRED_CLOSE[i]):
        series.append(([p[0] for p in pts], [p[1] for p in pts], "linear"))

    for j, (xs, ys, shape) in enumerate(series):
        fig.add_trace(go.Scatter(x=xs, y=ys, mode="lines", name=SERIES_NAMES[j],
                                 line=dict(color=COLORS[j], width=WIDTHS[j], shape=shape),
                                 xaxis=xa, yaxis=ya, legend=leg, showlegend=True,
                                 hoverinfo="skip"))

    l, r, t, b = BOXES[i]
    axis_common = dict(showline=True, mirror=True, linecolor=AX_COLOR, linewidth=1,
                       ticks="outside", ticklen=3, tickwidth=1, tickcolor=AX_COLOR,
                       showgrid=False, zeroline=False, tickfont=dict(size=10, family=FONT, color="#222222"))
    layout["xaxis" + sfx] = dict(domain=[px2x(l), px2x(r)], anchor=ya,
                                 range=[-0.05 * N, 1.05 * N], tick0=0, dtick=50, **axis_common)
    layout["yaxis" + sfx] = dict(domain=[py2y(b), py2y(t)], anchor=xa,
                                 range=list(YRANGES[i]), tick0=0, dtick=YDTICK[i], **axis_common)
    layout[leg] = dict(x=px2x(l + 4), y=py2y(t + 5), xanchor="left", yanchor="top",
                       bgcolor="rgba(255,255,255,0.85)", bordercolor="#cccccc", borderwidth=1,
                       font=dict(size=10, family=FONT, color="#222222"), tracegroupgap=0,
                       itemwidth=30)

    tx, ty = TITLE_POS[i]
    layout["annotations"].append(dict(text="Stock prediction", x=px2x(tx), y=py2y(ty), xref="paper", yref="paper",
                                      showarrow=False, xanchor="center", yanchor="middle",
                                      font=dict(size=15, family=FONT, color="#111111")))
    lx, lyy = YLAB_POS[i]
    layout["annotations"].append(dict(text="Stock price", x=px2x(lx), y=py2y(lyy), xref="paper", yref="paper",
                                      showarrow=False, textangle=-90, xanchor="center", yanchor="middle",
                                      font=dict(size=15, family=FONT, color="#111111")))
    layout["annotations"].append(dict(text="Time", x=px2x((l + r) / 2), y=py2y(XLAB_Y[i]), xref="paper",
                                      yref="paper", showarrow=False, xanchor="center", yanchor="middle",
                                      font=dict(size=9.5, family=FONT, color="#222222")))
    mx, my = MLAB_POS[i]
    layout["annotations"].append(dict(text=PANEL_NAMES[i], x=px2x(mx), y=py2y(my), xref="paper", yref="paper",
                                      showarrow=False, xanchor="center", yanchor="middle",
                                      font=dict(size=30, family="Liberation Serif, Times New Roman, serif",
                                                color="#000000")))

fig.update_layout(**layout)
fig.write_html("out.html", config={"displayModeBar": False})
